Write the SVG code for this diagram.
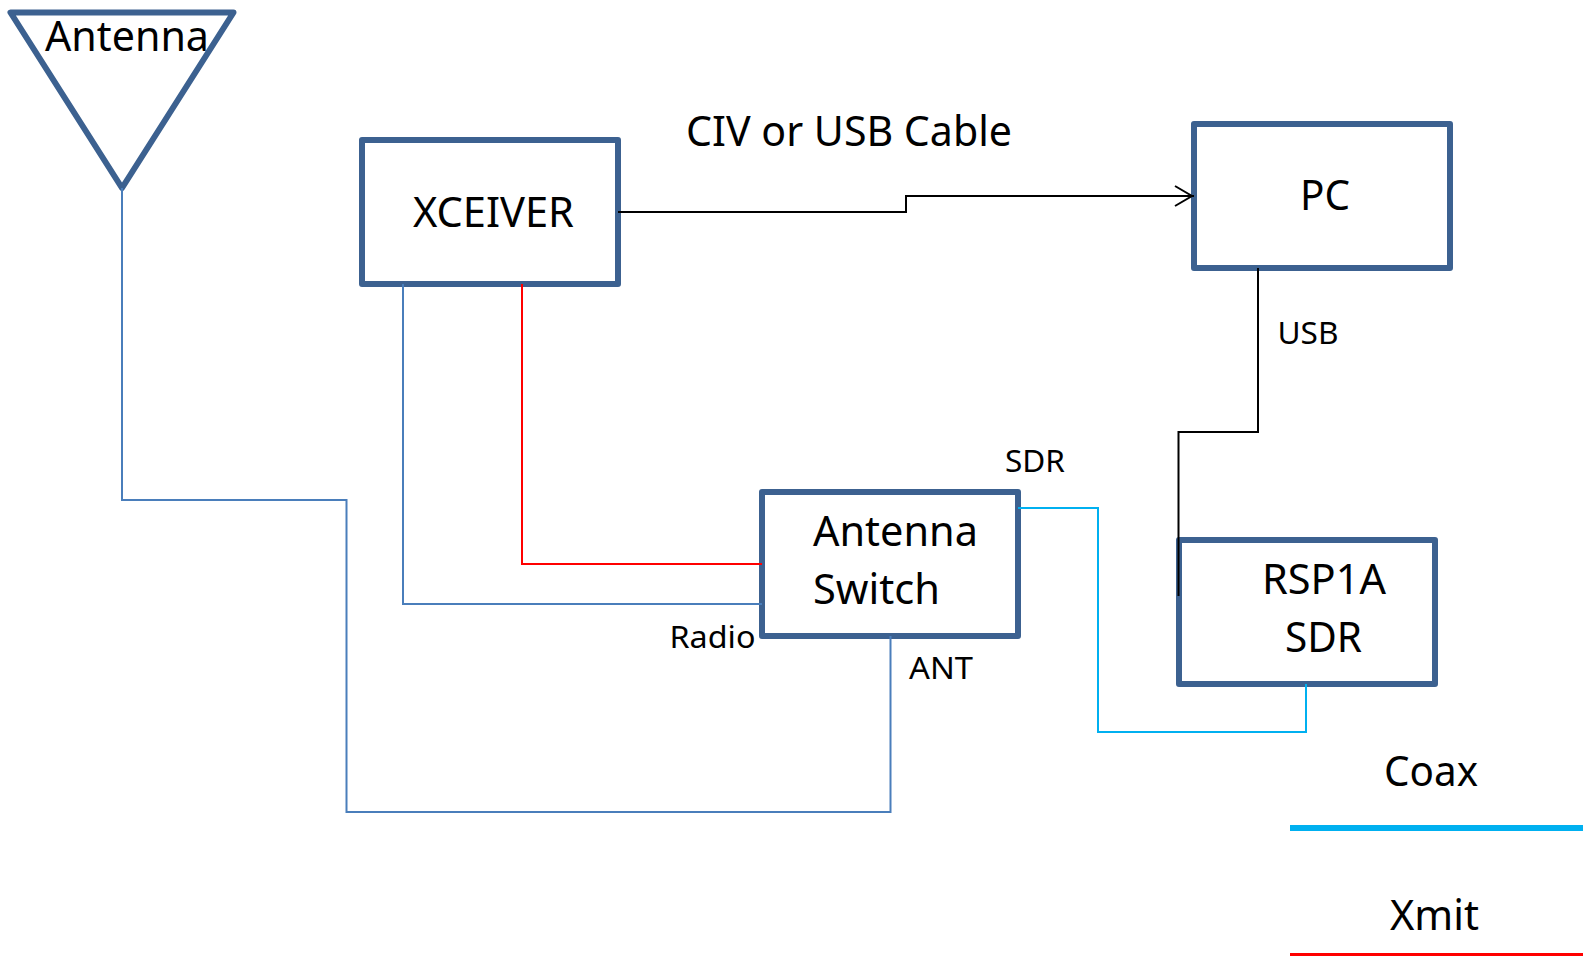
<svg xmlns="http://www.w3.org/2000/svg" width="1583" height="956" viewBox="0 0 1583 956">
<style>
.box{fill:#fff;stroke:#3c6190;stroke-width:6;stroke-linejoin:round}
.c{fill:none;stroke-width:2;stroke-linejoin:miter}
.coax{stroke:#4a7ebb}
.sdr{stroke:#00b0f0}
.xmit{stroke:#ff0000}
.blk{stroke:#000}
text{font-family:"Noto Sans","Open Sans","Liberation Sans",sans-serif;fill:#000}
.l{font-size:42px}
.s{font-size:31px}
</style>
<defs>
<marker id="arrow" markerUnits="userSpaceOnUse" markerWidth="24" markerHeight="24" refX="20" refY="12" orient="auto">
<path d="M1,2 L18,12 L1,22" fill="none" stroke="#000" stroke-width="2"/>
</marker>
</defs>
<rect width="1583" height="956" fill="#fff"/>
<g id="antenna"><polygon class="box" points="10.5,12.5 233.5,12.5 122,188"/><text class="l" x="45" y="51" textLength="164" lengthAdjust="spacingAndGlyphs">Antenna</text></g>
<g id="xceiver"><rect class="box" x="362" y="140" width="256" height="144"/><text class="l" x="413" y="227" textLength="161" lengthAdjust="spacingAndGlyphs">XCEIVER</text></g>
<g id="pc"><rect class="box" x="1194" y="124" width="256" height="144"/><text class="l" x="1300" y="210" textLength="50" lengthAdjust="spacingAndGlyphs">PC</text></g>
<g id="switch"><rect class="box" x="762" y="492" width="256" height="144"/><text class="l" x="813" y="546" textLength="165" lengthAdjust="spacingAndGlyphs">Antenna</text><text class="l" x="813" y="604" textLength="127" lengthAdjust="spacingAndGlyphs">Switch</text></g>
<g id="rsp1a"><rect class="box" x="1179" y="540" width="256" height="144"/><text class="l" x="1262" y="594" textLength="124" lengthAdjust="spacingAndGlyphs">RSP1A</text><text class="l" x="1285" y="652" textLength="77" lengthAdjust="spacingAndGlyphs">SDR</text></g>
<g id="connectors">
<path class="c coax" d="M122,188V500H346.500V812H890.500V636"/>
<path class="c coax" d="M403,284V604H762"/>
<path class="c xmit" d="M522,284V564H762"/>
<path class="c blk" d="M618,212H906V196H1194" marker-end="url(#arrow)"/>
<path class="c blk" d="M1258,268V432H1178.500V596"/>
<path class="c sdr" d="M1018,508H1098V732H1306V684"/>
</g>
<g id="labels">
<text class="l" x="686" y="146" textLength="326" lengthAdjust="spacingAndGlyphs">CIV or USB Cable</text>
<text class="s" x="1277.500" y="344" textLength="61" lengthAdjust="spacingAndGlyphs">USB</text>
<text class="s" x="1005" y="472" textLength="60" lengthAdjust="spacingAndGlyphs">SDR</text>
<text class="s" x="669.500" y="648" textLength="86" lengthAdjust="spacingAndGlyphs">Radio</text>
<text class="s" x="909" y="679" textLength="64" lengthAdjust="spacingAndGlyphs">ANT</text>
</g>
<g id="legend">
<text class="l" x="1384" y="786" textLength="94" lengthAdjust="spacingAndGlyphs">Coax</text>
<rect x="1290" y="825" width="293" height="6" fill="#00b0f0"/>
<text class="l" x="1390" y="930" textLength="89" lengthAdjust="spacingAndGlyphs">Xmit</text>
<rect x="1290" y="953" width="293" height="3" fill="#ff0000"/>
</g>
</svg>
